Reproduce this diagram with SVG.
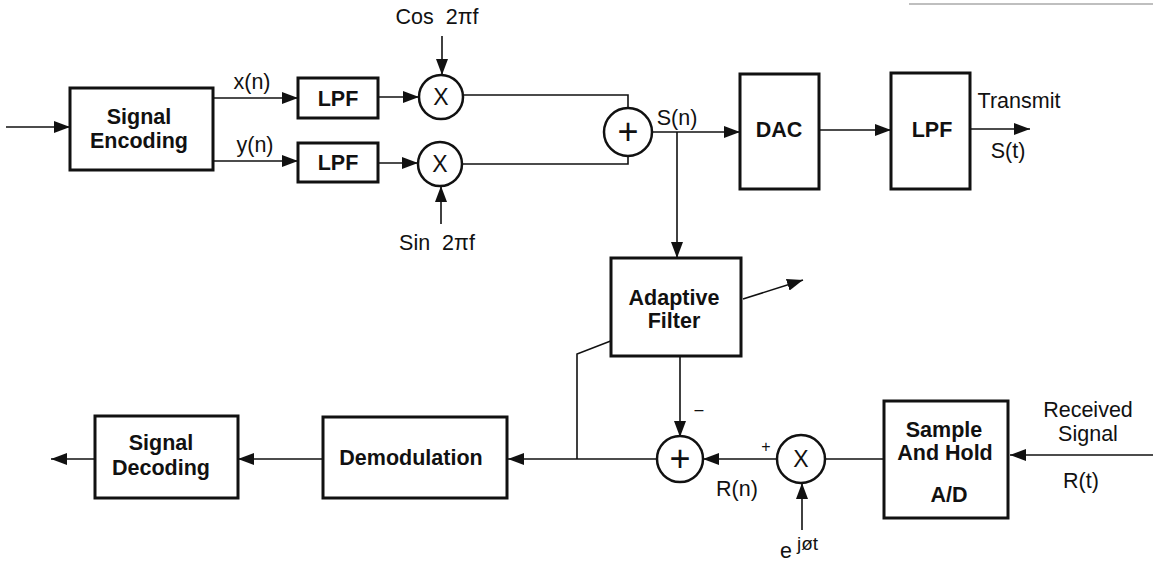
<svg xmlns="http://www.w3.org/2000/svg" width="1161" height="564" viewBox="0 0 1161 564">
<style>
.box{fill:#fff;stroke:#111;stroke-width:3}
.circ{fill:#fff;stroke:#111;stroke-width:2.5}
.ln{fill:none;stroke:#111;stroke-width:1.6}
.arr{marker-end:url(#ah)}
.bt{font-family:"Liberation Sans",Arial,sans-serif;font-weight:bold;font-size:21.5px;fill:#111;text-anchor:middle}
.t{font-family:"Liberation Sans",Arial,sans-serif;font-size:21.5px;fill:#111;text-anchor:middle;white-space:pre}
.op{font-family:"Liberation Sans",Arial,sans-serif;font-size:23px;fill:#111;text-anchor:middle}
.pl{font-family:"Liberation Sans",Arial,sans-serif;font-size:36px;fill:#111;text-anchor:middle}
.sm{font-family:"Liberation Sans",Arial,sans-serif;font-size:16px;fill:#111;text-anchor:middle}
</style>
<defs>
<marker id="ah" markerUnits="userSpaceOnUse" markerWidth="16" markerHeight="12" refX="16" refY="6" orient="auto">
<path d="M0,0 L16,6 L0,12 z" fill="#111"/>
</marker>
</defs>
<rect width="1161" height="564" fill="#fff"/>
<line x1="909" y1="4" x2="1153" y2="4" stroke="#aaa" stroke-width="1.5"/>
<g id="connectors">
<path class="ln arr" d="M6,127 H70"/>
<path class="ln arr" d="M213,98 H298"/>
<path class="ln arr" d="M213,161 H298"/>
<path class="ln arr" d="M378,97 H419"/>
<path class="ln arr" d="M378,163 H418"/>
<path class="ln arr" d="M442,36 V75"/>
<path class="ln arr" d="M441,224 V186"/>
<path class="ln" d="M463,95 H628 V108"/>
<path class="ln" d="M462,164 H628 V156"/>
<path class="ln arr" d="M652,132 H740"/>
<path class="ln arr" d="M677,132 V258"/>
<path class="ln arr" d="M819,130 H891"/>
<path class="ln arr" d="M970,129 H1030"/>
<path class="ln arr" d="M743,299 L803,280"/>
<path class="ln arr" d="M680,356 V437"/>
<path class="ln" d="M621,337 L577,354 V459"/>
<path class="ln arr" d="M657,459 H508"/>
<path class="ln arr" d="M323,459 H238"/>
<path class="ln arr" d="M95,459 H51"/>
<path class="ln arr" d="M777,459 H703"/>
<path class="ln" d="M884,459 H825"/>
<path class="ln arr" d="M1153,455 H1010"/>
<path class="ln arr" d="M802,530 V483"/>
</g>
<g id="signal-encoding">
<rect class="box" x="70" y="88" width="143" height="82"/>
<text class="bt" x="139" y="124">Signal</text>
<text class="bt" x="139" y="148">Encoding</text>
</g>
<g id="lpf1">
<rect class="box" x="298" y="78" width="80" height="40"/>
<text class="bt" x="338" y="106">LPF</text>
</g>
<g id="lpf2">
<rect class="box" x="298" y="143" width="80" height="39"/>
<text class="bt" x="338" y="170">LPF</text>
</g>
<g id="mult1">
<circle class="circ" cx="441" cy="97" r="22"/>
<text class="op" x="441" y="105">X</text>
</g>
<g id="mult2">
<circle class="circ" cx="440" cy="164" r="22"/>
<text class="op" x="440" y="172">X</text>
</g>
<g id="sum1">
<circle class="circ" cx="628" cy="132" r="24"/>
<text class="pl" x="628" y="144">+</text>
</g>
<g id="dac">
<rect class="box" x="740" y="74" width="79" height="115"/>
<text class="bt" x="779" y="137">DAC</text>
</g>
<g id="lpf3">
<rect class="box" x="891" y="73" width="79" height="116"/>
<text class="bt" x="932" y="137">LPF</text>
</g>
<g id="adaptive-filter">
<rect class="box" x="611" y="258" width="130" height="98"/>
<text class="bt" x="674" y="305">Adaptive</text>
<text class="bt" x="674" y="328">Filter</text>
</g>
<g id="sum2">
<circle class="circ" cx="680" cy="459" r="23"/>
<text class="pl" x="680" y="471">+</text>
</g>
<g id="mult3">
<circle class="circ" cx="801" cy="459" r="24"/>
<text class="op" x="801" y="467">X</text>
</g>
<g id="sample-hold">
<rect class="box" x="884" y="401" width="124" height="117"/>
<text class="bt" x="944" y="437">Sample</text>
<text class="bt" x="945" y="460">And Hold</text>
<text class="bt" x="949" y="502">A/D</text>
</g>
<g id="demodulation">
<rect class="box" x="323" y="417" width="184" height="81"/>
<text class="bt" x="411" y="465">Demodulation</text>
</g>
<g id="signal-decoding">
<rect class="box" x="95" y="416" width="143" height="82"/>
<text class="bt" x="161" y="450">Signal</text>
<text class="bt" x="161" y="475">Decoding</text>
</g>
<g id="labels">
<text class="t" x="252" y="89">x(n)</text>
<text class="t" x="255" y="152">y(n)</text>
<text class="t" x="437" y="24">Cos  2πf</text>
<text class="t" x="437" y="250">Sin  2πf</text>
<text class="t" x="677" y="125">S(n)</text>
<text class="t" x="1019" y="108">Transmit</text>
<text class="t" x="1008" y="158">S(t)</text>
<text class="sm" x="699" y="415">–</text>
<text class="sm" x="766" y="452">+</text>
<text class="t" x="737" y="496">R(n)</text>
<text class="t" x="1088" y="417">Received</text>
<text class="t" x="1088" y="441">Signal</text>
<text class="t" x="1081" y="488">R(t)</text>
<text class="t" x="786" y="558">e</text>
<text class="t" x="797" y="550" style="font-size:19px;text-anchor:start">jøt</text>
</g>
</svg>
